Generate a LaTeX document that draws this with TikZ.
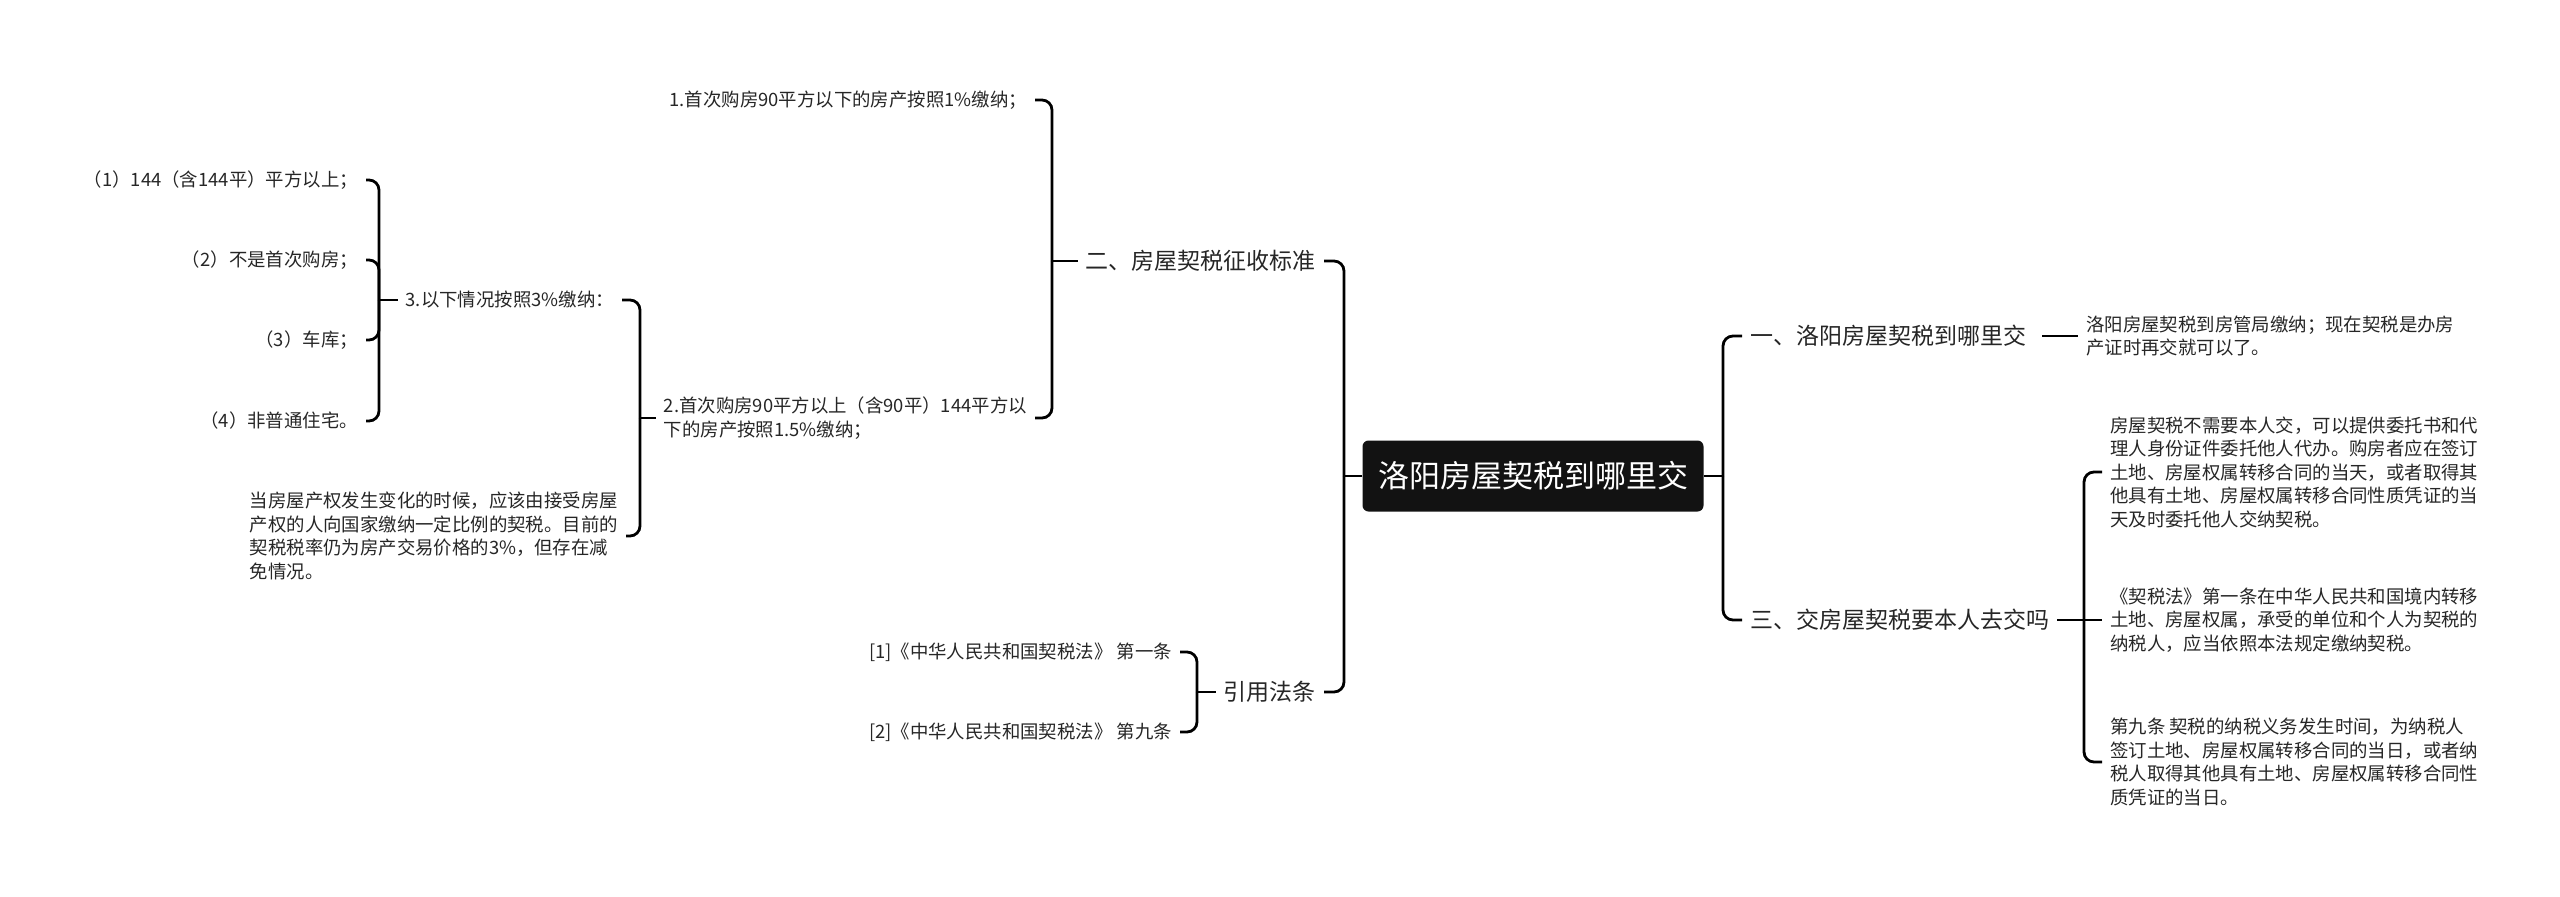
\documentclass[tikz,border=0pt]{standalone}
\usepackage{fontspec}
\setmainfont{Noto Sans CJK SC}
\usetikzlibrary{positioning}

\tikzset{
	mapline/.style={line width=2.8pt, rounded corners=10pt, black},
	hub/.style={fill=black!93, text=white, rounded corners=6pt, minimum width=341pt, minimum height=71pt, inner sep=0pt, font=\fontsize{31}{36}\selectfont},
	branch/.style={inner xsep=8pt, inner ysep=2pt, text=black!85, font=\fontsize{23}{28}\selectfont},
	leaf/.style={inner xsep=8pt, inner ysep=2pt, text=black!85, align=left, font=\fontsize{18.4}{23.5}\selectfont}
}

\begin{document}
\begin{tikzpicture}[x=1pt, y=-1pt]
				
					\useasboundingbox (0,0) rectangle (2560,897);
					
					\node[hub] (root) at (1533,476) {洛阳房屋契税到哪里交};
					
					\node[branch, anchor=west] (yi) at (1742,336) {一、洛阳房屋契税到哪里交};
					\node[branch, anchor=west] (san) at (1742,620) {三、交房屋契税要本人去交吗};
					\node[branch, anchor=east] (er) at (1324,261) {二、房屋契税征收标准};
					\node[branch, anchor=east] (fatiao) at (1324,692) {引用法条};
					
					\node[leaf, anchor=west] (d1) at (2078,336) {洛阳房屋契税到房管局缴纳；现在契税是办房\\产证时再交就可以了。};
					\node[leaf, anchor=west] (dA) at (2102,472) {房屋契税不需要本人交，可以提供委托书和代\\理人身份证件委托他人代办。购房者应在签订\\土地、房屋权属转移合同的当天，或者取得其\\他具有土地、房屋权属转移合同性质凭证的当\\天及时委托他人交纳契税。};
					\node[leaf, anchor=west] (dB) at (2102,620) {《契税法》第一条在中华人民共和国境内转移\\土地、房屋权属，承受的单位和个人为契税的\\纳税人，应当依照本法规定缴纳契税。};
					\node[leaf, anchor=west] (dC) at (2102,762) {第九条 契税的纳税义务发生时间，为纳税人\\签订土地、房屋权属转移合同的当日，或者纳\\税人取得其他具有土地、房屋权属转移合同性\\质凭证的当日。};
					
					\node[leaf, anchor=east] (c1) at (1035,100) {1.首次购房90平方以下的房产按照1\%缴纳；};
					\node[leaf, anchor=east] (c2) at (1035,418) {2.首次购房90平方以上（含90平）144平方以\\下的房产按照1.5\%缴纳；};
					\node[leaf, anchor=east] (c3) at (622,300) {3.以下情况按照3\%缴纳：};
					\node[leaf, anchor=east] (c4) at (626,536) {当房屋产权发生变化的时候，应该由接受房屋\\产权的人向国家缴纳一定比例的契税。目前的\\契税税率仍为房产交易价格的3\%，但存在减\\免情况。};
					
					\node[leaf, anchor=east] (e1) at (366,180) {（1）144（含144平）平方以上；};
					\node[leaf, anchor=east] (e2) at (366,260) {（2）不是首次购房；};
					\node[leaf, anchor=east] (e3) at (366,340) {（3）车库；};
					\node[leaf, anchor=east] (e4) at (366,421) {（4）非普通住宅。};
					
					\node[leaf, anchor=east] (f1) at (1180,652) {[1]《中华人民共和国契税法》 第一条};
					\node[leaf, anchor=east] (f2) at (1180,732) {[2]《中华人民共和国契税法》 第九条};
					
					\coordinate (r1) at (1723,476);
					\coordinate (r2) at (2084,620);
					\coordinate (l1) at (1344,476);
					\coordinate (l2) at (1052,261);
					\coordinate (l3) at (640,418);
					\coordinate (l4) at (379,300);
					\coordinate (l5) at (1197,692);
					
					\draw[mapline] (root.east) -- (r1);
					\draw[mapline] (r1) |- (yi.west);
					\draw[mapline] (r1) |- (san.west);
					\draw[mapline] ([xshift=8pt]yi.east) -- (d1.west);
					\draw[mapline] (san.east) -- (r2);
					\draw[mapline] (r2) |- (dA.west);
					\draw[mapline] (r2) -- (dB.west);
					\draw[mapline] (r2) |- (dC.west);
					
					\draw[mapline] (root.west) -- (l1);
					\draw[mapline] (l1) |- (er.east);
					\draw[mapline] (l1) |- (fatiao.east);
					\draw[mapline] (er.west) -- (l2);
					\draw[mapline] (l2) |- (c1.east);
					\draw[mapline] (l2) |- (c2.east);
					\draw[mapline] (c2.west) -- (l3);
					\draw[mapline] (l3) |- (c3.east);
					\draw[mapline] (l3) |- (c4.east);
					\draw[mapline] (c3.west) -- (l4);
					\foreach \k in {1,...,4}
						\draw[mapline] (l4) |- (e\k.east);
					\draw[mapline] (fatiao.west) -- (l5);
					\draw[mapline] (l5) |- (f1.east);
					\draw[mapline] (l5) |- (f2.east);

				\end{tikzpicture}
\end{document}
